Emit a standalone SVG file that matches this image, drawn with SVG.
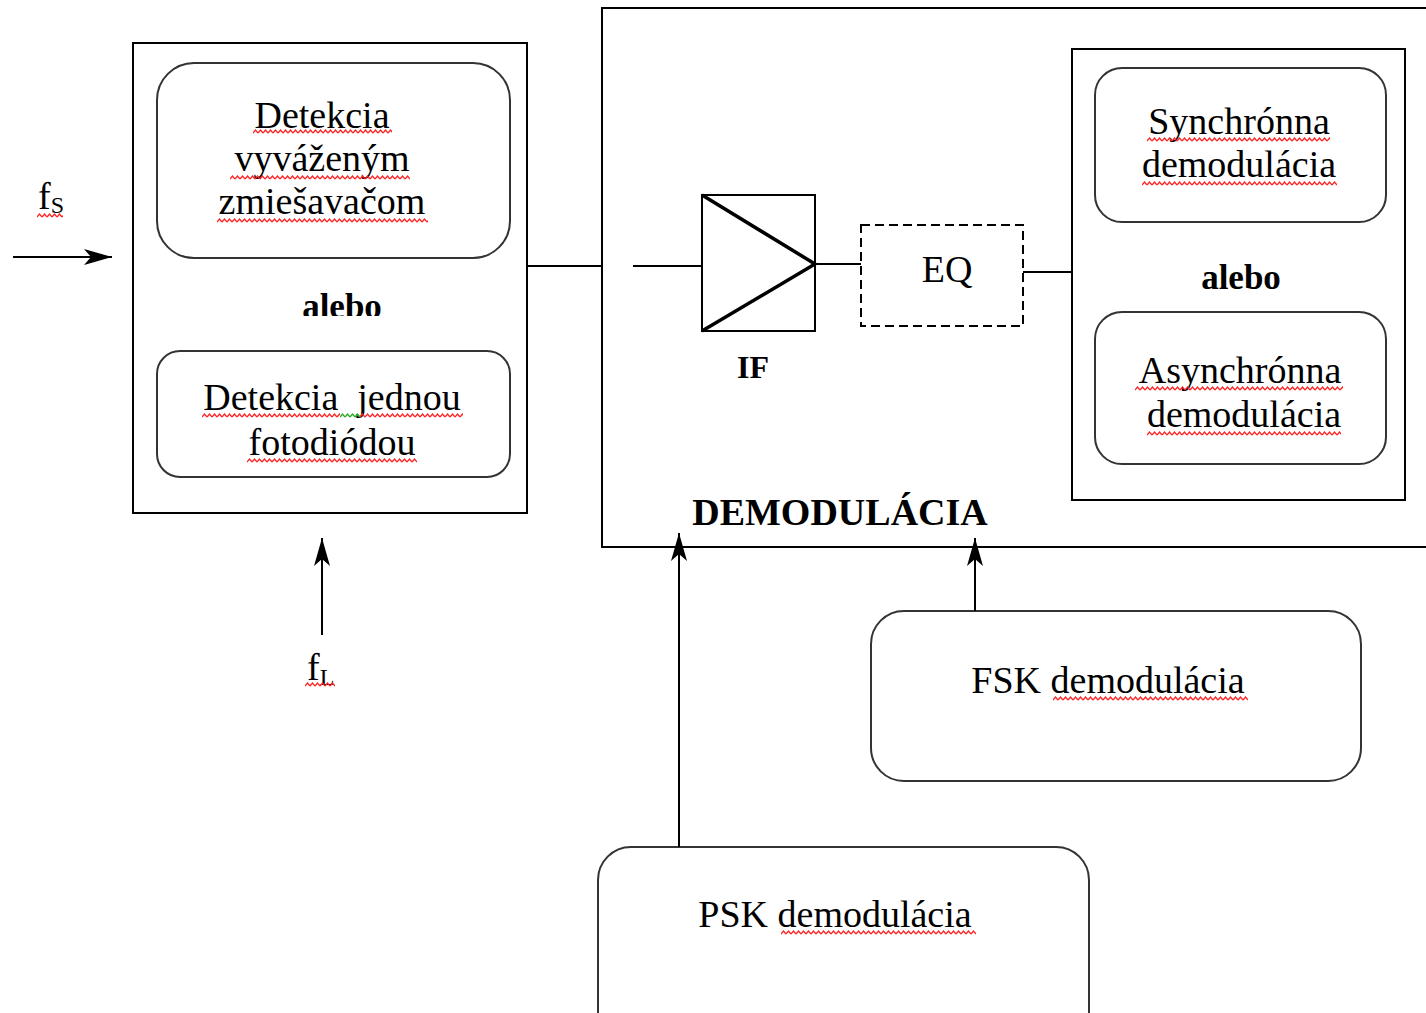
<svg xmlns="http://www.w3.org/2000/svg" width="1426" height="1013" viewBox="0 0 1426 1013">
<style>
.t{font-family:"Liberation Serif","Times New Roman",serif;font-size:38px;fill:#000;text-anchor:middle}
.s{text-anchor:start}
.b{font-weight:bold}
.box{fill:none;stroke:#000;stroke-width:2}
.rbox{fill:#fff;stroke:#333;stroke-width:2}
.ln{stroke:#000;stroke-width:2;fill:none}
.sq{fill:url(#sq)}
.sqg{fill:url(#sqg)}
</style>
<defs>
<marker id="ah" viewBox="0 0 28 18" refX="28" refY="9" markerWidth="28" markerHeight="18" markerUnits="userSpaceOnUse" orient="auto">
<path d="M0,1 L28,9 L0,17 L7,9 Z" fill="#000"/>
</marker>
<pattern id="sq" width="5" height="5" patternUnits="userSpaceOnUse"><path d="M0,4 L2.5,1 L5,4" stroke="#f22" stroke-width="1.3" fill="none"/></pattern>
<pattern id="sqg" width="5" height="5" patternUnits="userSpaceOnUse"><path d="M0,4 L2.5,1 L5,4" stroke="#2a2" stroke-width="1.3" fill="none"/></pattern>
<clipPath id="clipAlebo"><rect x="280" y="270" width="120" height="46"/></clipPath>
</defs>
<rect width="1426" height="1013" fill="#fff"/>

<g id="detection-block">
<rect class="box" x="133" y="43" width="394" height="470"/>
<text class="t b" x="342" y="318" clip-path="url(#clipAlebo)" style="font-size:35px">alebo</text>
</g>
<g id="balanced-mixer">
<rect class="rbox" x="157" y="63" width="353" height="195" rx="37"/>
<text class="t" x="322" y="128">Detekcia</text>
<text class="t" x="322" y="171">vyváženým</text>
<text class="t" x="322" y="214">zmiešavačom</text>
</g>
<g id="single-photodiode">
<rect class="rbox" x="157" y="351" width="353" height="126" rx="23"/>
<text class="t" x="332" y="410" style="white-space:pre" xml:space="preserve">Detekcia  jednou</text>
<text class="t" x="332" y="455">fotodiódou</text>
</g>
<g id="fs-label">
<text class="t s" x="38" y="209">f<tspan dy="4" style="font-size:24px">S</tspan></text>
</g>
<g id="fl-label">
<text class="t s" x="307" y="680">f<tspan dy="5" style="font-size:24px">L</tspan></text>
</g>

<g id="demodulation-block">
<rect class="box" x="602" y="8" width="900" height="539"/>
<text class="t b" x="840" y="525">DEMODULÁCIA</text>
</g>
<g id="if-amplifier">
<rect class="box" x="702" y="195" width="113" height="136"/>
<polyline points="702,195 815,264 702,331" fill="none" stroke="#000" stroke-width="3.5" stroke-linejoin="miter"/>
<text class="t b" x="753" y="378" style="font-size:32px">IF</text>
</g>
<g id="equalizer">
<rect x="861" y="225" width="162" height="101" fill="none" stroke="#000" stroke-width="2" stroke-dasharray="9 5"/>
<text class="t" x="947" y="282">EQ</text>
</g>
<g id="demod-type-block">
<rect class="box" x="1072" y="49" width="333" height="451"/>
<text class="t b" x="1241" y="289" style="font-size:35px">alebo</text>
</g>
<g id="synchronous">
<rect class="rbox" x="1095" y="68" width="291" height="154" rx="27"/>
<text class="t" x="1239" y="134">Synchrónna</text>
<text class="t" x="1239" y="177">demodulácia</text>
</g>
<g id="asynchronous">
<rect class="rbox" x="1095" y="312" width="291" height="152" rx="27"/>
<text class="t" x="1240" y="383">Asynchrónna</text>
<text class="t" x="1244" y="427">demodulácia</text>
</g>
<g id="fsk">
<rect class="rbox" x="871" y="611" width="490" height="170" rx="33"/>
<text class="t" x="1108" y="693">FSK demodulácia</text>
</g>
<g id="psk">
<rect class="rbox" x="598" y="847" width="491" height="200" rx="33"/>
<text class="t" x="835" y="927">PSK demodulácia</text>
</g>

<g id="connectors">
<line class="ln" x1="13" y1="257" x2="112" y2="257" marker-end="url(#ah)"/>
<line class="ln" x1="322" y1="635" x2="322" y2="538" marker-end="url(#ah)"/>
<line class="ln" x1="679" y1="847" x2="679" y2="533" marker-end="url(#ah)"/>
<line class="ln" x1="975" y1="611" x2="975" y2="538" marker-end="url(#ah)"/>
<line class="ln" x1="527" y1="266" x2="602" y2="266"/>
<line class="ln" x1="633" y1="266" x2="702" y2="266"/>
<line class="ln" x1="815" y1="264" x2="861" y2="264"/>
<line class="ln" x1="1023" y1="272" x2="1072" y2="272"/>
</g>

<g id="spellcheck-marks">
<rect class="sq" transform="translate(37,213)" width="26" height="5"/>
<rect class="sq" transform="translate(253,129)" width="139" height="5"/>
<rect class="sq" transform="translate(230,175)" width="180" height="5"/>
<rect class="sq" transform="translate(217,218)" width="211" height="5"/>
<rect class="sq" transform="translate(202,413)" width="138" height="5"/>
<rect class="sqg" transform="translate(340,413)" width="20" height="5"/>
<rect class="sq" transform="translate(360,413)" width="103" height="5"/>
<rect class="sq" transform="translate(247,458)" width="170" height="5"/>
<rect class="sq" transform="translate(305,682)" width="30" height="5"/>
<rect class="sq" transform="translate(1147,137)" width="183" height="5"/>
<rect class="sq" transform="translate(1142,181)" width="195" height="5"/>
<rect class="sq" transform="translate(1135,386)" width="208" height="5"/>
<rect class="sq" transform="translate(1147,431)" width="194" height="5"/>
<rect class="sq" transform="translate(1053,696)" width="195" height="5"/>
<rect class="sq" transform="translate(781,930)" width="195" height="5"/>
</g>
</svg>
